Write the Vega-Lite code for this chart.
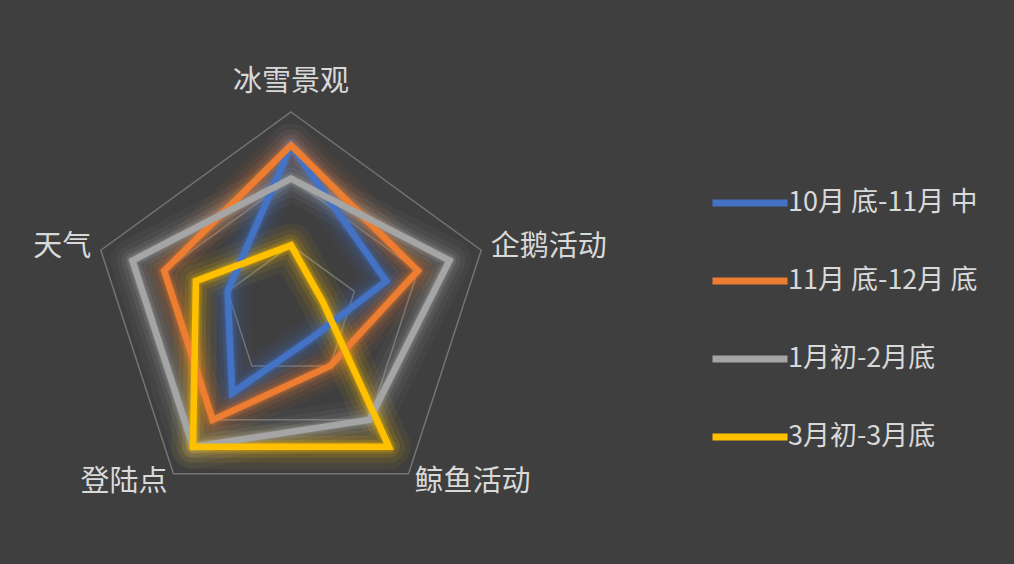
{
  "$schema": "https://vega.github.io/schema/vega-lite/v6.json",
  "width": 1014,
  "height": 564,
  "autosize": {"type": "fit", "contains": "padding"},
  "padding": 0,
  "background": "#3F3F3F",
  "config": {
    "view": {"stroke": null}
  },
  "datasets": {
    "scores": [
      {"period": "10月 底-11月 中", "axis": "冰雪景观", "value": 5},
      {"period": "10月 底-11月 中", "axis": "企鹅活动", "value": 3},
      {"period": "10月 底-11月 中", "axis": "鲸鱼活动", "value": 1},
      {"period": "10月 底-11月 中", "axis": "登陆点", "value": 3},
      {"period": "10月 底-11月 中", "axis": "天气", "value": 2},
      {"period": "11月 底-12月 底", "axis": "冰雪景观", "value": 5},
      {"period": "11月 底-12月 底", "axis": "企鹅活动", "value": 4},
      {"period": "11月 底-12月 底", "axis": "鲸鱼活动", "value": 2},
      {"period": "11月 底-12月 底", "axis": "登陆点", "value": 4},
      {"period": "11月 底-12月 底", "axis": "天气", "value": 4},
      {"period": "1月初-2月底", "axis": "冰雪景观", "value": 4},
      {"period": "1月初-2月底", "axis": "企鹅活动", "value": 5},
      {"period": "1月初-2月底", "axis": "鲸鱼活动", "value": 4},
      {"period": "1月初-2月底", "axis": "登陆点", "value": 5},
      {"period": "1月初-2月底", "axis": "天气", "value": 5},
      {"period": "3月初-3月底", "axis": "冰雪景观", "value": 2},
      {"period": "3月初-3月底", "axis": "企鹅活动", "value": 1},
      {"period": "3月初-3月底", "axis": "鲸鱼活动", "value": 5},
      {"period": "3月初-3月底", "axis": "登陆点", "value": 5},
      {"period": "3月初-3月底", "axis": "天气", "value": 3}
    ],
    "grid": [
      {"level": 2, "axis": ["冰雪景观", "企鹅活动", "鲸鱼活动", "登陆点", "天气"]},
      {"level": 4, "axis": ["冰雪景观", "企鹅活动", "鲸鱼活动", "登陆点", "天气"]},
      {"level": 6, "axis": ["冰雪景观", "企鹅活动", "鲸鱼活动", "登陆点", "天气"]}
    ],
    "labels": [
      {"axis": "冰雪景观"},
      {"axis": "企鹅活动"},
      {"axis": "鲸鱼活动"},
      {"axis": "登陆点"},
      {"axis": "天气"}
    ]
  },
  "encoding": {
    "x": {"field": "px", "type": "quantitative", "axis": null, "scale": {"domain": [-8.73, 21.69], "nice": false, "zero": false}},
    "y": {"field": "py", "type": "quantitative", "axis": null, "scale": {"domain": [-7.56, 9.36], "nice": false, "zero": false}}
  },
  "layer": [
    {
      "data": {"name": "grid"},
      "transform": [
        {"flatten": ["axis"]},
        {"calculate": "indexof(['冰雪景观','企鹅活动','鲸鱼活动','登陆点','天气'], datum.axis)", "as": "idx"},
        {"calculate": "datum.idx * 2 * PI / 5", "as": "ang"},
        {"calculate": "datum.level * sin(datum.ang)", "as": "px"},
        {"calculate": "datum.level * cos(datum.ang)", "as": "py"}
      ],
      "mark": {"type": "line", "interpolate": "linear-closed", "stroke": "#747474", "strokeWidth": 1.5},
      "encoding": {
        "detail": {"field": "level", "type": "nominal"},
        "order": {"field": "idx", "type": "quantitative"}
      }
    },
    {
      "data": {"name": "scores"},
      "transform": [
        {"calculate": "indexof(['冰雪景观','企鹅活动','鲸鱼活动','登陆点','天气'], datum.axis)", "as": "idx"},
        {"calculate": "datum.idx * 2 * PI / 5", "as": "ang"},
        {"calculate": "datum.value * sin(datum.ang)", "as": "px"},
        {"calculate": "datum.value * cos(datum.ang)", "as": "py"}
      ],
      "encoding": {
        "color": {
          "field": "period",
          "type": "nominal",
          "scale": {"domain": ["10月 底-11月 中", "11月 底-12月 底", "1月初-2月底", "3月初-3月底"], "range": ["#4472C4", "#ED7D31", "#A5A5A5", "#FFC000"]},
          "legend": {
            "title": null,
            "orient": "none",
            "legendX": 709,
            "legendY": 162,
            "padding": 0,
            "symbolType": "stroke",
            "symbolSize": 5625,
            "symbolStrokeWidth": 7,
            "symbolOpacity": 1,
            "labelFontSize": 27,
            "labelColor": "#D9D9D9",
            "labelFont": "Noto Sans CJK SC",
            "labelOffset": -3,
            "labelLimit": 400,
            "rowPadding": 23,
            "symbolOffset": 0
          }
        },
        "order": {"field": "idx", "type": "quantitative"}
      },
      "layer": [
        {"mark": {"type": "line", "interpolate": "linear-closed", "strokeWidth": 44, "opacity": 0.055, "strokeJoin": "round"}},
        {"mark": {"type": "line", "interpolate": "linear-closed", "strokeWidth": 32, "opacity": 0.08, "strokeJoin": "round"}},
        {"mark": {"type": "line", "interpolate": "linear-closed", "strokeWidth": 22, "opacity": 0.12, "strokeJoin": "round"}},
        {"mark": {"type": "line", "interpolate": "linear-closed", "strokeWidth": 14, "opacity": 0.18, "strokeJoin": "round"}},
        {"mark": {"type": "line", "interpolate": "linear-closed", "strokeWidth": 9.5, "opacity": 0.25, "strokeJoin": "round"}},
        {"mark": {"type": "line", "interpolate": "linear-closed", "strokeWidth": 6.5, "strokeJoin": "miter"}}
      ]
    },
    {
      "data": {"name": "labels"},
      "transform": [
        {"calculate": "indexof(['冰雪景观','企鹅活动','鲸鱼活动','登陆点','天气'], datum.axis)", "as": "idx"},
        {"calculate": "datum.idx * 2 * PI / 5", "as": "ang"},
        {"calculate": "datum.idx == 0 ? 6.915 : 6.3", "as": "r"},
        {"calculate": "datum.r * sin(datum.ang)", "as": "px"},
        {"calculate": "datum.r * cos(datum.ang)", "as": "py"}
      ],
      "layer": [
        {
          "transform": [{"filter": "datum.idx == 0"}],
          "mark": {"type": "text", "align": "center", "baseline": "middle", "fontSize": 29, "font": "Noto Sans CJK SC", "color": "#D9D9D9"},
          "encoding": {"text": {"field": "axis"}}
        },
        {
          "transform": [{"filter": "datum.idx == 1 || datum.idx == 2"}],
          "mark": {"type": "text", "align": "left", "baseline": "middle", "fontSize": 29, "font": "Noto Sans CJK SC", "color": "#D9D9D9"},
          "encoding": {"text": {"field": "axis"}}
        },
        {
          "transform": [{"filter": "datum.idx == 3 || datum.idx == 4"}],
          "mark": {"type": "text", "align": "right", "baseline": "middle", "fontSize": 29, "font": "Noto Sans CJK SC", "color": "#D9D9D9"},
          "encoding": {"text": {"field": "axis"}}
        }
      ]
    }
  ]
}
